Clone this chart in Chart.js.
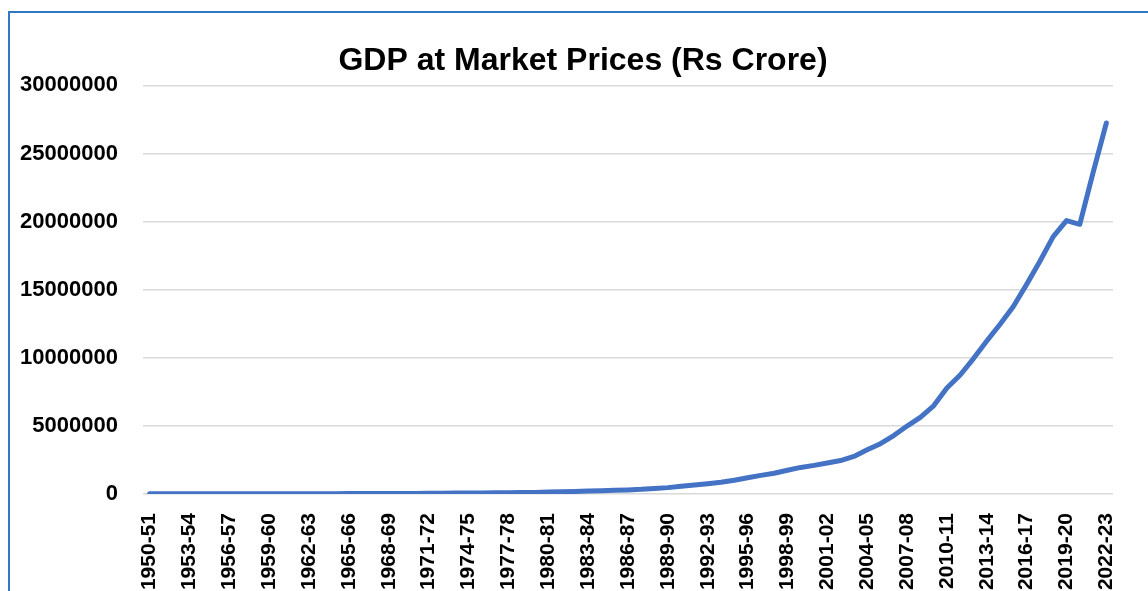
<!DOCTYPE html>
<html>
<head>
<meta charset="utf-8">
<script src="https://cdn.jsdelivr.net/npm/chart.js@4/dist/chart.umd.min.js"></script>
<style>
  html, body { margin: 0; padding: 0; background: #fff; overflow: hidden; }
  #wrap { position: relative; width: 1148px; height: 591px; }
  #frame { position: absolute; left: 8px; top: 11px; width: 1300px; height: 800px; border: 2px solid #2e78c6; }
  canvas { position: absolute; left: 0; top: 0; }
</style>
</head>
<body>
<div id="wrap">
  <div id="frame"></div>
  <canvas id="gdpChart" width="1148" height="591"></canvas>
</div>
<script>
// fiscal years 1950-51 .. 2022-23
const years = [];
for (let y = 1950; y <= 2022; y++) {
    years.push(y + '-' + String((y + 1) % 100).padStart(2, '0'));
}

// GDP at current market prices, Rs crore
const gdp = [
    10401, 11021, 10875, 11768, 11100, 11289, 13348, 13653, 15234, 16016,
    17492, 18473, 19733, 22598, 26224, 27587, 31403, 36868, 38897, 42815,
    45569, 48479, 53352, 65296, 76832, 81699, 87746, 100012, 107659, 117567,
    140172, 163928, 183322, 214266, 237401, 269403, 300138, 340211, 405174, 468007,
    568674, 653117, 748367, 859220, 1012770, 1188012, 1368208, 1522547, 1740985, 1952036,
    2102314, 2278952, 2454561, 2754621, 3242209, 3693369, 4294706, 4987090, 5630063, 6477827,
    7784115, 8736329, 9944013, 11233522, 12467959, 13771874, 15391669, 17090042, 18899668, 20074856,
    19800914, 23597399, 27240712
];

const yTicks = [0, 5000000, 10000000, 15000000, 20000000, 25000000, 30000000];

// the original title sits a little right of the canvas centre
const titleShift = {
    id: 'titleShift',
    afterLayout(chart) {
        if (chart.titleBlock) chart.titleBlock.left = 53;
    }
};

const ctx = document.getElementById('gdpChart').getContext('2d');
new Chart(ctx, {
    type: 'line',
    data: {
        labels: years,
        datasets: [{
            label: 'GDP',
            data: gdp,
            borderColor: '#4472c4',
            borderWidth: 5,
            pointRadius: 0,
            tension: 0,
            borderCapStyle: 'round',
            borderJoinStyle: 'round',
            fill: false
        }]
    },
    options: {
        responsive: false,
        animation: false,
        layout: { padding: { left: 0, right: 35, top: 0, bottom: 0 } },
        plugins: {
            legend: { display: false },
            tooltip: { enabled: false },
            title: {
                display: true,
                text: 'GDP at Market Prices (Rs Crore)',
                color: '#000',
                font: { family: 'Liberation Sans', size: 32, weight: 'bold' },
                padding: { top: 42, bottom: 5 }
            }
        },
        scales: {
            x: {
                offset: true,
                grid: { display: false },
                border: { display: false },
                ticks: {
                    autoSkip: false,
                    minRotation: 90,
                    maxRotation: 90,
                    padding: 11,
                    color: '#000',
                    font: { family: 'Liberation Sans', size: 21, weight: 'bold' },
                    callback: function (v, i) { return i % 3 === 0 ? years[i] : ''; }
                },
                afterFit: function (s) { s.height = 97; }
            },
            y: {
                min: 0,
                max: 30000000,
                afterBuildTicks: function (s) { s.ticks = yTicks.map(v => ({ value: v })); },
                grid: { color: '#d9d9d9', lineWidth: 1.5, drawTicks: false },
                border: { display: false },
                ticks: {
                    padding: 25,
                    color: '#000',
                    font: { family: 'Liberation Sans', size: 22, weight: 'bold' },
                    callback: function (v) { return String(v); }
                },
                afterFit: function (s) { s.width = 143; }
            }
        }
    },
    plugins: [titleShift]
});
</script>
</body>
</html>
